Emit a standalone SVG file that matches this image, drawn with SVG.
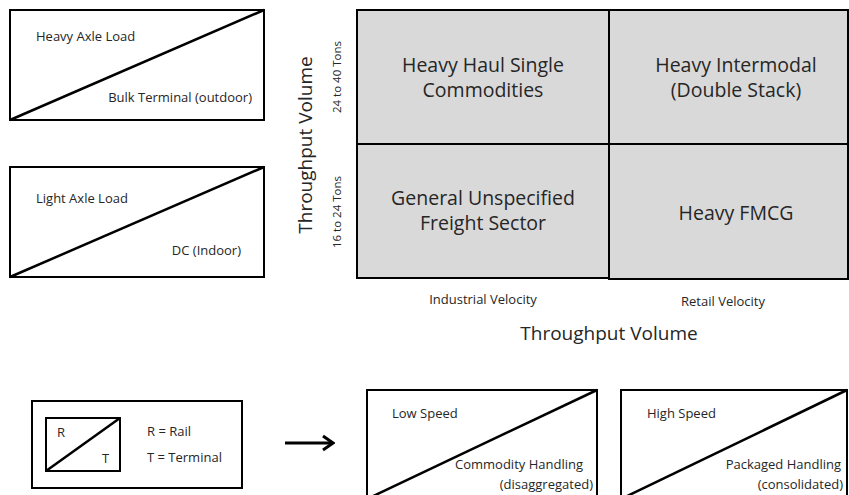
<svg xmlns="http://www.w3.org/2000/svg" width="849" height="495" viewBox="0 0 849 495">
<style>
.bx{fill:#fff;stroke:#000;stroke-width:2}
.dg{stroke:#000;stroke-width:2.5;fill:none}
.cell{fill:#d9d9d9;stroke:#000;stroke-width:2}
text{font-family:"Open Sans","Liberation Sans",sans-serif;fill:#262626}
.s{font-size:13px}
.t{font-size:11.5px}
.m{font-size:19.5px}
.l{font-size:19px}
.mid{text-anchor:middle}
.end{text-anchor:end}
</style>
<defs>
<marker id="ah" markerWidth="14" markerHeight="20" refX="12" refY="9" orient="auto" markerUnits="userSpaceOnUse">
<path d="M2,2 L12,9 L2,16" fill="none" stroke="#000" stroke-width="3"/>
</marker>
</defs>
<rect width="849" height="495" fill="#fff"/>
<g id="heavy-axle">
<rect class="bx" x="10" y="10" width="254" height="110"/>
<line class="dg" x1="10" y1="120" x2="264" y2="10"/>
<text class="s" x="36" y="41">Heavy Axle Load</text>
<text class="s end" x="252" y="102">Bulk Terminal (outdoor)</text>
</g>
<g id="light-axle">
<rect class="bx" x="10" y="167" width="254" height="110"/>
<line class="dg" x1="10" y1="277" x2="264" y2="167"/>
<text class="s" x="36" y="203">Light Axle Load</text>
<text class="s end" x="241" y="255">DC (Indoor)</text>
</g>
<g id="grid">
<rect class="cell" x="357" y="10" width="252" height="134"/>
<rect class="cell" x="357" y="144" width="252" height="134"/>
<rect class="cell" x="609" y="10" width="239" height="134"/>
<rect class="cell" x="609" y="144" width="239" height="135"/>
</g>
<g id="cell-hh">
<text class="m mid" x="483" y="72">Heavy Haul Single</text>
<text class="m mid" x="483" y="97">Commodities</text>
</g>
<g id="cell-hi">
<text class="m mid" x="736" y="72">Heavy Intermodal</text>
<text class="m mid" x="736" y="97">(Double Stack)</text>
</g>
<g id="cell-gu">
<text class="m mid" x="483" y="205">General Unspecified</text>
<text class="m mid" x="483" y="230">Freight Sector</text>
</g>
<g id="cell-fm">
<text class="m mid" x="736" y="220">Heavy FMCG</text>
</g>
<g id="axis-labels">
<text class="l mid" transform="translate(312,145) rotate(-90)">Throughput Volume</text>
<text class="t mid" transform="translate(341,77) rotate(-90)">24 to 40 Tons</text>
<text class="t mid" transform="translate(341,212) rotate(-90)">16 to 24 Tons</text>
<text class="s mid" x="483" y="304">Industrial Velocity</text>
<text class="s mid" x="723" y="306">Retail Velocity</text>
<text class="l mid" x="609" y="340">Throughput Volume</text>
</g>
<g id="legend">
<rect class="bx" x="32" y="401" width="210" height="87"/>
<rect class="bx" x="46" y="418" width="74" height="53"/>
<line class="dg" x1="46" y1="471" x2="120" y2="418"/>
<text class="s" x="57" y="437">R</text>
<text class="s" x="102" y="463">T</text>
<text class="s" x="147" y="436">R = Rail</text>
<text class="s" x="147" y="462">T = Terminal</text>
</g>
<g id="connectors">
<line x1="285" y1="443" x2="333" y2="443" stroke="#000" stroke-width="3" marker-end="url(#ah)"/>
</g>
<g id="low-speed">
<rect class="bx" x="367" y="390" width="230" height="109"/>
<line class="dg" x1="367" y1="499" x2="597" y2="390"/>
<text class="s" x="392" y="418">Low Speed</text>
<text class="s end" x="583" y="469">Commodity Handling</text>
<text class="s end" x="593" y="489">(disaggregated)</text>
</g>
<g id="high-speed">
<rect class="bx" x="621" y="390" width="226" height="109"/>
<line class="dg" x1="621" y1="499" x2="847" y2="390"/>
<text class="s" x="647" y="418">High Speed</text>
<text class="s end" x="841" y="469">Packaged Handling</text>
<text class="s end" x="843" y="489">(consolidated)</text>
</g>
</svg>
